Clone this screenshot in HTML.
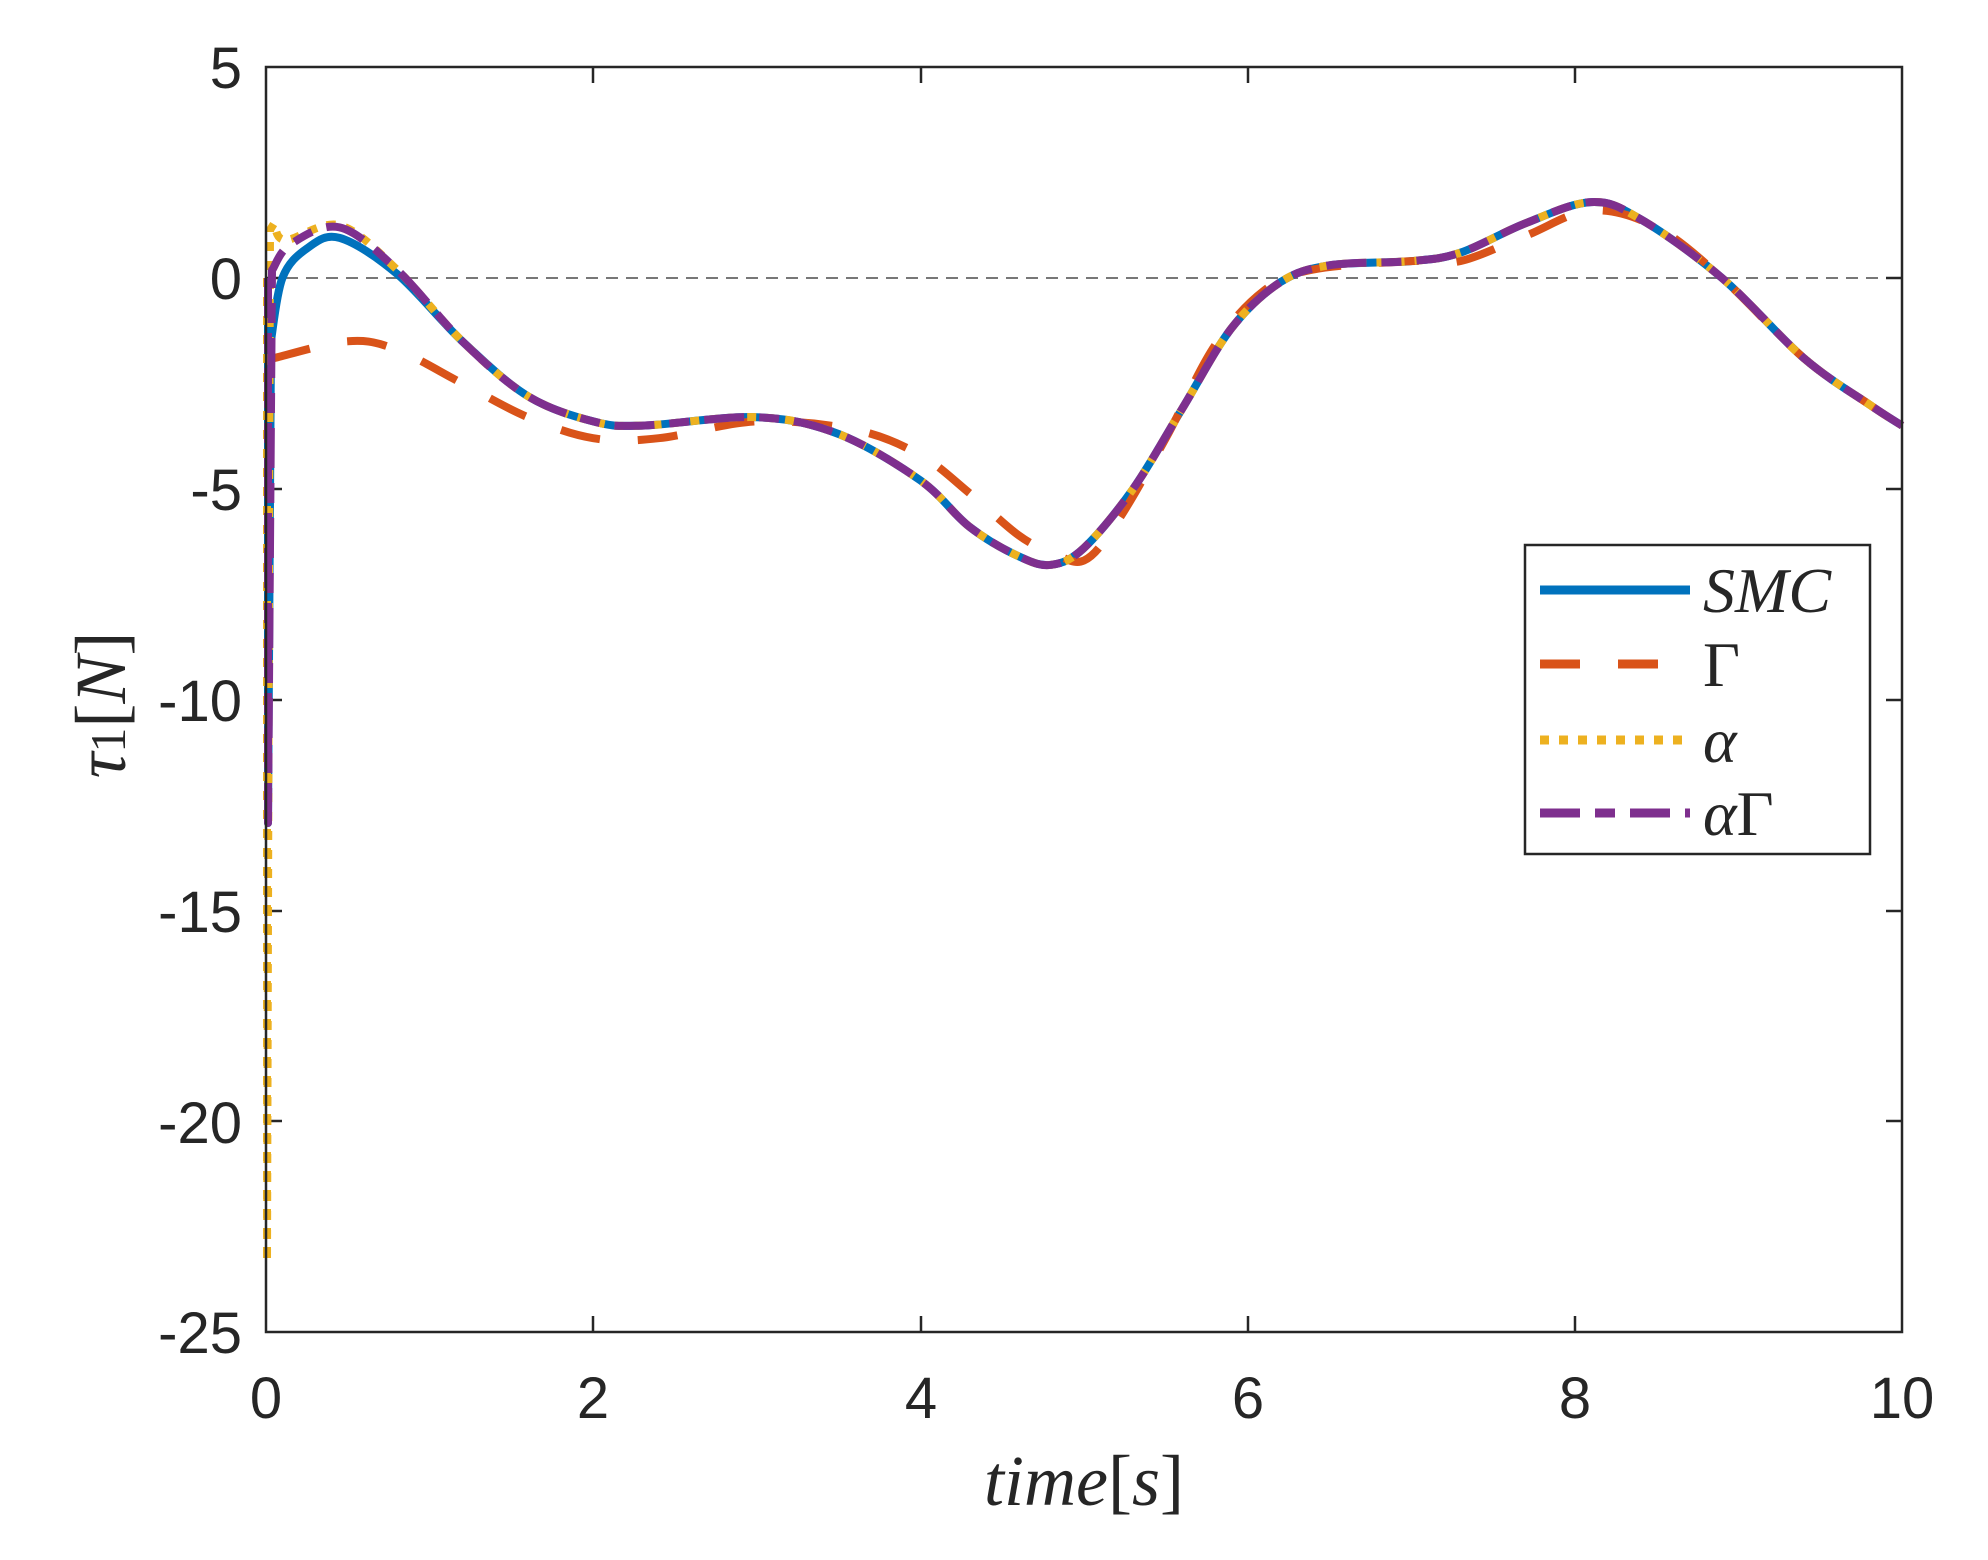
<!DOCTYPE html>
<html><head><meta charset="utf-8"><style>
html,body{margin:0;padding:0;background:#fff;}
svg{display:block;}
text{font-family:"Liberation Sans",sans-serif;fill:#262626;}
.s{font-family:"Liberation Serif",serif;font-style:italic;}
.n{font-style:normal;}
</style></head><body>
<svg id="c" width="1988" height="1560" viewBox="0 0 1988 1560" xmlns="http://www.w3.org/2000/svg">
<rect width="1988" height="1560" fill="#fff"/>
<g id="plot"></g>
<rect x="266" y="67" width="1636" height="1265" fill="none" stroke="#262626" stroke-width="2.5"/>
<g font-size="58" text-anchor="end">
<text x="242" y="88">5</text>
<text x="242" y="299">0</text>
<text x="242" y="510">-5</text>
<text x="242" y="721">-10</text>
<text x="242" y="932">-15</text>
<text x="242" y="1143">-20</text>
<text x="242" y="1353">-25</text>
</g>
<g font-size="58" text-anchor="middle">
<text x="266" y="1418">0</text>
<text x="593" y="1418">2</text>
<text x="921" y="1418">4</text>
<text x="1248" y="1418">6</text>
<text x="1575" y="1418">8</text>
<text x="1902" y="1418">10</text>
</g>
<text class="s" x="1084" y="1505" font-size="72" text-anchor="middle">time<tspan class="n">[</tspan>s<tspan class="n">]</tspan></text>
<text class="s" transform="translate(125,705) rotate(-90)" font-size="72" text-anchor="middle">τ<tspan class="n" font-size="50">1</tspan><tspan class="n">[</tspan>N<tspan class="n">]</tspan></text>
<g>
<rect x="1525" y="545" width="345" height="309" fill="#fff" stroke="#262626" stroke-width="2.5"/>
<line x1="1540" y1="590" x2="1690" y2="590" stroke="#0072BD" stroke-width="9"/>
<line x1="1540" y1="664" x2="1690" y2="664" stroke="#D95319" stroke-width="9" stroke-dasharray="40,38"/>
<line x1="1540" y1="740" x2="1690" y2="740" stroke="#EDB120" stroke-width="9" stroke-dasharray="9,10"/>
<line x1="1540" y1="813" x2="1690" y2="813" stroke="#7E2F8E" stroke-width="9" stroke-dasharray="40,15,20,15"/>
<g font-size="64">
<text class="s" x="1703" y="612">SMC</text>
<text class="s n" x="1703" y="686">Γ</text>
<text class="s" x="1703" y="762">α</text>
<text class="s" x="1703" y="835">α<tspan class="n">Γ</tspan></text>
</g>
</g>
</svg>
<script>
var X0=266,XS=163.6,Y0=278,YS=42.17;
function px(t){return X0+t*XS;} function py(v){return Y0-v*YS;}
function cr(pts){var d="M"+px(pts[0][0]).toFixed(1)+","+py(pts[0][1]).toFixed(1);
for(var i=0;i<pts.length-1;i++){var p0=pts[Math.max(0,i-1)],p1=pts[i],p2=pts[i+1],p3=pts[Math.min(pts.length-1,i+2)];
var a=[px(p0[0]),py(p0[1])],b=[px(p1[0]),py(p1[1])],c=[px(p2[0]),py(p2[1])],e=[px(p3[0]),py(p3[1])];
var c1=[b[0]+(c[0]-a[0])/6,b[1]+(c[1]-a[1])/6],c2=[c[0]-(e[0]-b[0])/6,c[1]-(e[1]-b[1])/6];
d+="C"+c1[0].toFixed(1)+","+c1[1].toFixed(1)+" "+c2[0].toFixed(1)+","+c2[1].toFixed(1)+" "+c[0].toFixed(1)+","+c[1].toFixed(1);}
return d;}
var tail=[[2.0,-3.4],[2.3,-3.5],[3.0,-3.3],[3.5,-3.7],[4.0,-4.8],[4.3,-5.9],[4.6,-6.6],[4.8,-6.8],[5.0,-6.4],[5.3,-5.0],[5.6,-3.1],[5.9,-1.2],[6.2,-0.1],[6.5,0.3],[7.0,0.4],[7.3,0.6],[7.7,1.3],[8.1,1.8],[8.4,1.4],[8.9,0],[9.4,-1.9],[9.8,-3.0],[10,-3.5]];
var smc=[[0.03,-1.5],[0.1,0],[0.25,0.7],[0.45,0.95],[0.8,0.1],[1.2,-1.5],[1.6,-2.8]].concat(tail);
var pur=[[0.04,0.2],[0.15,0.8],[0.45,1.2],[0.8,0.2],[1.2,-1.5],[1.6,-2.8]].concat(tail);
var gam=[[0.05,-1.9],[0.5,-1.5],[0.8,-1.7],[1.2,-2.5],[1.6,-3.3],[2.0,-3.8],[2.4,-3.8],[3.0,-3.4],[3.6,-3.6],[4.0,-4.2],[4.3,-5.1],[4.6,-6.1],[4.8,-6.5],[5.0,-6.7],[5.2,-5.8],[5.5,-3.8],[5.8,-1.6],[6.1,-0.3],[6.4,0.2],[7.0,0.4],[7.3,0.4],[7.7,1.0],[8.1,1.6],[8.5,1.2],[8.9,0],[9.4,-1.9],[9.8,-3.0],[10,-3.5]];
var yel=[[0.05,1.3],[0.12,0.9],[0.45,1.25],[0.8,0.2],[1.2,-1.5],[1.6,-2.8]].concat(tail);
var g=document.getElementById("plot"),h="";
h+='<line x1="266" y1="278" x2="1902" y2="278" stroke="#777" stroke-width="2" stroke-dasharray="12,8"/>';
[593,921,1248,1575].forEach(function(x){h+='<line x1="'+x+'" y1="1332" x2="'+x+'" y2="1316" stroke="#262626" stroke-width="2.5"/><line x1="'+x+'" y1="67" x2="'+x+'" y2="83" stroke="#262626" stroke-width="2.5"/>';});
[278,489,700,911,1121].forEach(function(y){h+='<line x1="266" y1="'+y+'" x2="282" y2="'+y+'" stroke="#262626" stroke-width="2.5"/><line x1="1902" y1="'+y+'" x2="1886" y2="'+y+'" stroke="#262626" stroke-width="2.5"/>';});
function path(d,col,da){return '<path d="'+d+'" fill="none" stroke="'+col+'" stroke-width="8" stroke-linejoin="round"'+(da?' stroke-dasharray="'+da+'"':'')+'/>';}
h+=path("M268,278 L268,823 L271,340 "+cr(smc).replace("M","L"),"#0072BD");
h+=path("M268,278 L268,340 "+cr(gam).replace("M","L"),"#D95319","40,38");
h+=path("M267,278 L267,1262 L270,230 "+cr(yel).replace("M","L"),"#EDB120","9,10");
h+=path("M268,278 L268,823 L272,270 "+cr(pur).replace("M","L"),"#7E2F8E","40,15,20,15");
g.innerHTML=h;
</script>
</body></html>
